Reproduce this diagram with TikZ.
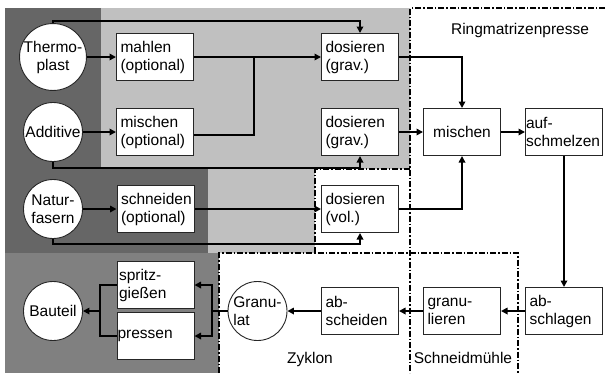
\documentclass[tikz,border=0pt]{standalone}
\usepackage{fontspec}
\setmainfont{Liberation Sans}
\usetikzlibrary{arrows.meta}
\definecolor{dkgray}{HTML}{666666}
\definecolor{ltgray}{HTML}{C0C0C0}
\definecolor{mdgray}{HTML}{808080}
\begin{document}
\begin{tikzpicture}[x=1pt,y=-1pt,
  font=\fontsize{15.5}{18}\selectfont,
  conn/.style={line width=2pt},
  arr/.style={conn,-{Triangle[length=6.5pt,width=6.5pt]}},
  box/.style={draw=black!85,line width=1pt,fill=white,minimum width=77pt,minimum height=47pt,inner sep=0pt,text width=69pt,align=left},
  cbox/.style={box,text width=77pt,align=center},
  rnd/.style={draw=black!85,line width=0.9pt,fill=white,circle,minimum size=59pt,inner sep=0pt,align=center},
  region/.style={dash pattern=on 6pt off 2pt on 1.5pt off 2pt,line width=1.4pt},
  lbl/.style={anchor=base,inner sep=0pt}
]
\useasboundingbox (0,0) rectangle (610,373);
% background regions
\fill[dkgray] (5,8) -- (101,8) -- (101,168) -- (208,168) -- (208,253) -- (5,253) -- cycle;
\fill[ltgray] (101,8) -- (410,8) -- (410,169) -- (315,169) -- (315,253) -- (208,253) -- (208,168) -- (101,168) -- cycle;
\fill[mdgray] (5,253) rectangle (219,373);
\fill[white] (315,169) rectangle (410,253);
% dashed regions
\draw[region] (605,8) -- (410,8) -- (410,373);
\draw[region] (315,253) -- (315,169) -- (410,169);
\draw[region] (219,373) -- (219,253) -- (518,253) -- (518,373);
% labels
\node[lbl] (lring) at (520,34.5) {Ringmatrizenpresse};
\node[lbl] (lzyk) at (310,363) {Zyklon};
\node[lbl] (lschn) at (463,363) {Schneidmühle};
% nodes
\node[rnd] (thermo) at (53,57) {Thermo-\\plast};
\node[rnd] (additive) at (53,132) {Additive};
\node[rnd] (natur) at (53,209) {Natur-\\fasern};
\node[box] (mahlen) at (155,57) {mahlen\\(optional)};
\node[box] (mischopt) at (155,132) {mischen\\(optional)};
\node[box] (schneiden) at (155.5,209) {schneiden\\(optional)};
\node[box] (dos1) at (360,57) {dosieren\\(grav.)};
\node[box] (dos2) at (360,132) {dosieren\\(grav.)};
\node[box] (dosvol) at (360,209) {dosieren\\(vol.)};
\node[cbox] (mischen) at (462,132) {mischen};
\node[box,text width=76pt] (auf) at (564,132) {auf-\\schmelzen};
\node[box] (abschl) at (564,311) {ab-\\schlagen};
\node[box] (granu) at (462,311) {granu-\\lieren};
\node[box] (abschei) at (360,311) {ab-\\scheiden};
\node[rnd,align=left] (granulat) at (257.5,311) {Granu-\\lat};
\node[box,text width=73pt] (spritz) at (155.5,285) {spritz-\\gießen};
\node[box,text width=76pt] (pressen) at (155.5,336) {pressen};
\node[rnd] (bauteil) at (53,311) {Bauteil};
% junctions and bends
\coordinate (ct) at (53,21);
\coordinate (ca) at (53,168);
\coordinate (cn) at (53,244);
\coordinate (jm) at (254,57);
\coordinate (jg) at (212,311);
\coordinate (jb) at (100,311);
% connectors
\draw[arr] (thermo.north) -- (ct) -| (dos1.north);
\draw[arr] (thermo.east) -- (mahlen.west);
\draw[arr] (mahlen.east) -- (dos1.west);
\draw[conn] ([yshift=-3pt]mischopt.east) -| (jm);
\draw[arr] (additive.east) -- (mischopt.west);
\draw[arr] (additive.south) -- (ca) -| (dos2.south);
\draw[arr] (natur.east) -- (schneiden.west);
\draw[arr] (schneiden.east) -- (dosvol.west);
\draw[arr] (natur.south) -- (cn) -| (dosvol.south);
\draw[arr] (dos1.east) -| (mischen.north);
\draw[arr] (dos2.east) -- (mischen.west);
\draw[arr] (dosvol.east) -| (mischen.south);
\draw[arr] (mischen.east) -- (auf.west);
\draw[arr] (auf.south) -- (abschl.north);
\draw[arr] (abschl.west) -- (granu.east);
\draw[arr] (granu.west) -- (abschei.east);
\draw[arr] (abschei.west) -- (granulat.east);
\draw[conn] (granulat.west) -- (jg);
\draw[arr] (jg) |- (spritz.east);
\draw[arr] (jg) |- (pressen.east);
\draw[conn] (spritz.west) -| (jb);
\draw[conn] (pressen.west) -| (jb);
\draw[arr] (jb) -- (bauteil.east);
\end{tikzpicture}
\end{document}
